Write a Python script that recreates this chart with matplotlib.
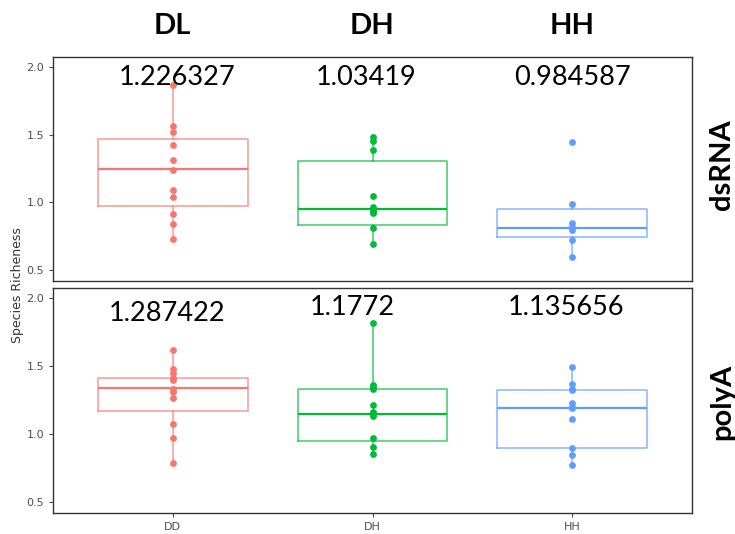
import matplotlib
matplotlib.use("Agg")
import matplotlib.pyplot as plt
import numpy as np

# groups on the x axis and the facet rows
groups = ["DD", "DH", "HH"]
headers = ["DL", "DH", "HH"]
rows = ["dsRNA", "polyA"]

# ggplot default hue colours
COLORS = ["#F8766D", "#00BA38", "#619CFF"]

# species richness per sample
ds_dd = [1.87, 1.566, 1.522, 1.426, 1.316, 1.243, 1.09, 1.037, 0.917, 0.84, 0.728]
ds_dh = [1.483, 1.458, 1.385, 1.046, 0.965, 0.950, 0.935, 0.92, 0.811, 0.696]
ds_hh = [1.444, 0.990, 0.846, 0.822, 0.800, 0.726, 0.598]
pa_dd = [1.619, 1.476, 1.447, 1.414, 1.398, 1.329, 1.309, 1.263, 1.075, 0.972, 0.79]
pa_dh = [1.82, 1.36, 1.345, 1.335, 1.218, 1.165, 1.148, 1.13, 0.972, 0.905, 0.857]
pa_hh = [1.491, 1.366, 1.335, 1.324, 1.226, 1.2, 1.189, 1.11, 0.898, 0.844, 0.776]

# box summaries as drawn: (whisker low, q1, median, q3, whisker high)
ds_box = [(0.728, 0.973, 1.25, 1.468, 1.87),
          (0.696, 0.831, 0.953, 1.304, 1.483),
          (0.598, 0.745, 0.814, 0.949, 0.990)]
pa_box = [(0.79, 1.169, 1.336, 1.414, 1.619),
          (0.857, 0.948, 1.145, 1.331, 1.82),
          (0.776, 0.901, 1.191, 1.324, 1.491)]

# group means written over each box
ds_means = ["1.226327", "1.03419", "0.984587"]
pa_means = ["1.287422", "1.1772", "1.135656"]

LABEL_FONT = "Lato"

W, H = 735, 534
fig = plt.figure(figsize=(W / 100, H / 100), dpi=100)
ax_top = fig.add_axes([53 / W, 1 - 281 / H, 639 / W, 224 / H])
ax_bot = fig.add_axes([53 / W, 1 - 513 / H, 639 / W, 225 / H])

panels = [
    (ax_top, [ds_dd, ds_dh, ds_hh], ds_box, ds_means, [(1.02, 1.92), (1.97, 1.92), (3.0, 1.92)]),
    (ax_bot, [pa_dd, pa_dh, pa_hh], pa_box, pa_means, [(0.97, 1.885), (1.90, 1.93), (2.97, 1.93)]),
]

for ax, points, boxes, means, label_pos in panels:
    for i, (vals, (lo, q1, med, q3, hi)) in enumerate(zip(points, boxes)):
        c = COLORS[i]
        stats = [{"whislo": lo, "q1": q1, "med": med, "q3": q3, "whishi": hi, "fliers": []}]
        ax.bxp(stats, positions=[i + 1], widths=0.75, showfliers=False, showcaps=False,
               boxprops=dict(color=c, lw=1.1, alpha=0.75),
               whiskerprops=dict(color=c, lw=1.1, alpha=0.75),
               medianprops=dict(color=c, lw=1.6))
        ax.scatter(np.full(len(vals), i + 1), vals, s=24, color=c, zorder=3, linewidths=0)
    for txt, (x, y) in zip(means, label_pos):
        ax.text(x, y, txt, ha="center", va="center", fontsize=19.5, family=LABEL_FONT, color="black")

    ax.set_xlim(0.4, 3.6)
    ax.set_ylim(0.42, 2.075)
    ax.set_yticks([0.5, 1.0, 1.5, 2.0])
    ax.set_yticklabels(["0.5", "1.0", "1.5", "2.0"])
    ax.tick_params(axis="both", colors="#4D4D4D", labelsize=8, length=3, width=0.8,
                   labelcolor="#4D4D4D")
    for sp in ax.spines.values():
        sp.set_color("#333333")
        sp.set_linewidth(1.0)

ax_top.set_xticks([])
ax_bot.set_xticks([1, 2, 3])
ax_bot.set_xticklabels(groups)

# column headers and row labels
for i, h in enumerate(headers):
    fig.text((53 + (0.6 + i) / 3.2 * 639) / W, 1 - 26 / H, h, ha="center", va="center",
             fontsize=21, fontweight="bold", family=LABEL_FONT)
fig.text(722 / W, 1 - 165 / H, rows[0], rotation=90, ha="center", va="center",
         fontsize=21, fontweight="bold", family=LABEL_FONT)
fig.text(722 / W, 1 - 402 / H, rows[1], rotation=90, ha="center", va="center",
         fontsize=21, fontweight="bold", family=LABEL_FONT)

fig.text(18 / W, 1 - 285 / H, "Species Richeness", rotation=90, ha="center", va="center",
         fontsize=9, color="#333333")

fig.savefig("out.png", dpi=100)
plt.close(fig)
